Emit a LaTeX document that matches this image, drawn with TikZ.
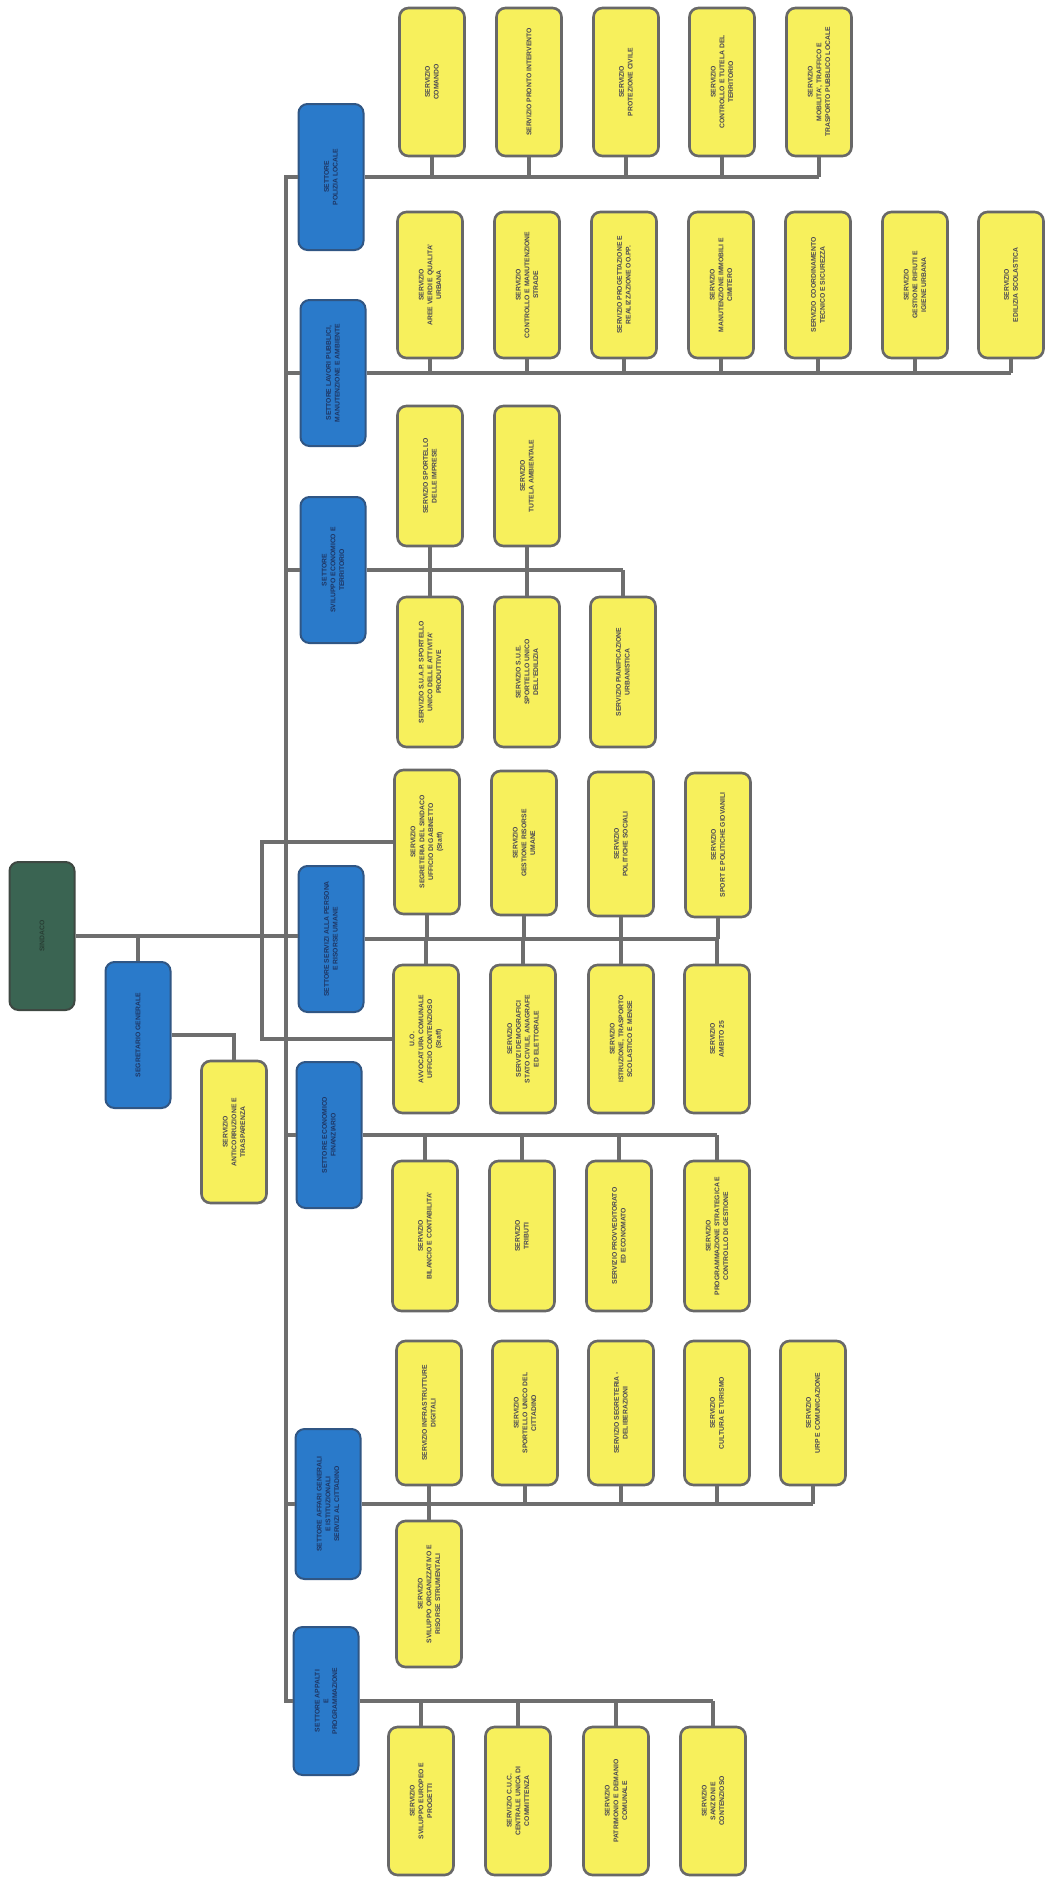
\documentclass[tikz,border=0pt]{standalone}
\usepackage{fontspec}
\setmainfont{Liberation Sans}
\definecolor{yfill}{RGB}{247,240,92}
\definecolor{ydraw}{RGB}{104,104,104}
\definecolor{lgray}{RGB}{110,110,110}
\definecolor{bfill}{RGB}{42,122,202}
\definecolor{bdraw}{RGB}{48,86,132}
\definecolor{gfill}{RGB}{58,100,82}
\definecolor{gdraw}{RGB}{62,72,66}
\definecolor{tgray}{RGB}{74,72,82}
\definecolor{tnavy}{RGB}{30,54,100}
\definecolor{tgreen}{RGB}{40,62,52}
\tikzset{
  conn/.style={draw=lgray, line width=3.2pt},
  ybox/.style={draw=ydraw, line width=2.6pt, fill=yfill, rounded corners=9pt,
    minimum width=65pt, minimum height=146pt, inner sep=0pt},
  bbox/.style={draw=bdraw, line width=2pt, fill=bfill, rounded corners=9pt,
    minimum width=65pt, minimum height=146pt, inner sep=0pt},
  gbox/.style={draw=gdraw, line width=2pt, fill=gfill, rounded corners=9pt,
    minimum width=65pt, minimum height=148pt, inner sep=0pt},
  ytxt/.style={rotate=90, align=center, font=\bfseries\fontsize{6.8}{8.8}\selectfont,
    text=tgray, inner sep=0pt},
  btxt/.style={ytxt, text=tnavy},
  gtxt/.style={ytxt, text=tgreen},
}
\newcommand\yb[5][]{\node[ybox,#1] (#2) at (#3,#4) {}; \node[ytxt] (#2t) at (#2.center) {#5};}
\newcommand\bb[5][]{\node[bbox,#1] (#2) at (#3,#4) {}; \node[btxt] (#2t) at (#2.center) {#5};}
\begin{document}
\begin{tikzpicture}[x=1pt,y=-1pt]
\useasboundingbox (0,0) rectangle (1046,1884);
\fill[white] (0,0) rectangle (1046,1884);

% root and staff
\node[gbox] (root) at (42,936) {};
\node[gtxt] (roott) at (root.center) {SINDACO};
\bb{staff}{138}{1035}{SEGRETARIO GENERALE}
\yb[minimum height=142pt]{anti}{234}{1132}{SERVIZIO\\ANTICORRUZIONE E\\TRASPARENZA}

% department heads
\bb{B1}{331}{177}{SETTORE\\POLIZIA LOCALE}
\bb{B2}{333}{373}{SETTORE LAVORI PUBBLICI,\\MANUTENZIONE E AMBIENTE}
\bb{B3}{333}{570}{SETTORE\\SVILUPPO ECONOMICO E\\TERRITORIO}
\bb{B4}{331}{939}{SETTORE SERVIZI ALLA PERSONA\\E RISORSE UMANE}
\bb{B5}{329}{1135}{SETTORE ECONOMICO\\FINANZIARIO}
\bb[minimum height=150pt]{B6}{328}{1504}{SETTORE AFFARI GENERALI\\E ISTITUZIONALI\\SERVIZI AL CITTADINO}
\bb[minimum height=148pt]{B7}{326}{1701}{SETTORE APPALTI\\E\\PROGRAMMAZIONE}

% row 1
\yb[minimum height=148pt]{r1a}{432}{82}{SERVIZIO\\COMANDO}
\yb[minimum height=148pt]{r1b}{529}{82}{SERVIZIO PRONTO INTERVENTO}
\yb[minimum height=148pt]{r1c}{626}{82}{SERVIZIO\\PROTEZIONE CIVILE}
\yb[minimum height=148pt]{r1d}{722}{82}{SERVIZIO\\CONTROLLO E TUTELA DEL\\TERRITORIO}
\yb[minimum height=148pt]{r1e}{819}{82}{SERVIZIO\\MOBILITA', TRAFFICO E\\TRASPORTO PUBBLICO LOCALE}

% row 2
\yb{r2a}{430}{285}{SERVIZIO\\AREE VERDI E QUALITA'\\URBANA}
\yb{r2b}{527}{285}{SERVIZIO\\CONTROLLO E MANUTENZIONE\\STRADE}
\yb{r2c}{624}{285}{SERVIZIO PROGETTAZIONE E\\REALIZZAZIONE OO.PP.}
\yb{r2d}{721}{285}{SERVIZIO\\MANUTENZIONE IMMOBILI E\\CIMITERO}
\yb{r2e}{818}{285}{SERVIZIO COORDINAMENTO\\TECNICO E SICUREZZA}
\yb{r2f}{915}{285}{SERVIZIO\\GESTIONE RIFIUTI E\\IGIENE URBANA}
\yb{r2g}{1011}{285}{SERVIZIO\\EDILIZIA SCOLASTICA}

% row 3
\yb[minimum height=140pt]{r3u1}{430}{476}{SERVIZIO SPORTELLO\\DELLE IMPRESE}
\yb[minimum height=140pt]{r3u2}{527}{476}{SERVIZIO\\TUTELA AMBIENTALE}
\yb[minimum height=150pt]{r3l1}{430}{672}{SERVIZIO S.U.A.P. SPORTELLO\\UNICO DELLE ATTIVITA'\\PRODUTTIVE}
\yb[minimum height=150pt]{r3l2}{527}{672}{SERVIZIO S.U.E.\\SPORTELLO UNICO\\DELL'EDILIZIA}
\yb[minimum height=150pt]{r3l3}{623}{672}{SERVIZIO PIANIFICAZIONE\\URBANISTICA}

% centre group
\yb[minimum height=144pt]{cu1}{427}{842}{SERVIZIO\\SEGRETERIA DEL SINDACO\\UFFICIO DI GABINETTO\\(Staff)}
\yb[minimum height=144pt]{cu2}{524}{843}{SERVIZIO\\GESTIONE RISORSE\\UMANE}
\yb[minimum height=144pt]{cu3}{621}{844}{SERVIZIO\\POLITICHE SOCIALI}
\yb[minimum height=144pt]{cu4}{718}{845}{SERVIZIO\\SPORT E POLITICHE GIOVANILI}
\yb[minimum height=148pt]{cl1}{426}{1039}{U.O.\\AVVOCATURA COMUNALE\\UFFICIO CONTENZIOSO\\(Staff)}
\yb[minimum height=148pt]{cl2}{523}{1039}{SERVIZIO\\SERVIZI DEMOGRAFICI\\STATO CIVILE, ANAGRAFE\\ED ELETTORALE}
\yb[minimum height=148pt]{cl3}{621}{1039}{SERVIZIO\\ISTRUZIONE, TRASPORTO\\SCOLASTICO E MENSE}
\yb[minimum height=148pt]{cl4}{717}{1039}{SERVIZIO\\AMBITO 25}

% row 5
\yb[minimum height=150pt]{r5a}{425}{1236}{SERVIZIO\\BILANCIO E CONTABILITA'}
\yb[minimum height=150pt]{r5b}{522}{1236}{SERVIZIO\\TRIBUTI}
\yb[minimum height=150pt]{r5c}{619}{1236}{SERVIZIO PROVVEDITORATO\\ED ECONOMATO}
\yb[minimum height=150pt]{r5d}{717}{1236}{SERVIZIO\\PROGRAMMAZIONE STRATEGICA E\\CONTROLLO DI GESTIONE}

% row 6
\yb[minimum height=144pt]{r6a}{429}{1413}{SERVIZIO INFRASTRUTTURE\\DIGITALI}
\yb[minimum height=144pt]{r6b}{525}{1413}{SERVIZIO\\SPORTELLO UNICO DEL\\CITTADINO}
\yb[minimum height=144pt]{r6c}{621}{1413}{SERVIZIO SEGRETERIA -\\DELIBERAZIONI}
\yb[minimum height=144pt]{r6d}{717}{1413}{SERVIZIO\\CULTURA E TURISMO}
\yb[minimum height=144pt]{r6e}{813}{1413}{SERVIZIO\\URP E COMUNICAZIONE}
\yb{r6l}{429}{1594}{SERVIZIO\\SVILUPPO ORGANIZZATIVO E\\RISORSE STRUMENTALI}

% row 7
\yb[minimum height=148pt]{r7a}{421}{1801}{SERVIZIO\\SVILUPPO EUROPEO E\\PROGETTI}
\yb[minimum height=148pt]{r7b}{518}{1801}{SERVIZIO C.U.C.\\CENTRALE UNICA DI\\COMMITTENZA}
\yb[minimum height=148pt]{r7c}{616}{1801}{SERVIZIO\\PATRIMONIO E DEMANIO\\COMUNALE}
\yb[minimum height=148pt]{r7d}{713}{1801}{SERVIZIO\\SANZIONI E\\CONTENZIOSO}

% ---------- connectors ----------
\coordinate (tr) at (286,0);
\coordinate (s2) at (262,939);
\draw[conn] (root.east) -- (root.east -| B4.west);
\draw[conn] (staff.north) -- (staff.north |- root.east);
\draw[conn] (staff.east) -| (anti.north);
\draw[conn] (B1.west) -| (tr |- B7.west) -- (B7.west);
\foreach \b in {B2,B3,B5,B6} \draw[conn] (\b.west) -- (tr |- \b.west);
\draw[conn] (cu1.west) -| (s2) |- (cl1.west);

% row 1
\draw[conn] (B1.east) -- (r1e.south |- B1.east);
\foreach \n in {r1a,r1b,r1c,r1d,r1e} \draw[conn] (\n.south) -- (\n.south |- B1.east);
% row 2
\draw[conn] (B2.east) -- (r2g.south |- B2.east);
\foreach \n in {r2a,r2b,r2c,r2d,r2e,r2f,r2g} \draw[conn] (\n.south) -- (\n.south |- B2.east);
% row 3
\draw[conn] (B3.east) -- (r3l3.north |- B3.east);
\foreach \n in {r3u1,r3u2} \draw[conn] (\n.south) -- (\n.south |- B3.east);
\foreach \n in {r3l1,r3l2,r3l3} \draw[conn] (\n.north) -- (\n.north |- B3.east);
% centre
\draw[conn] (B4.east) -- (cu4.south |- B4.east);
\foreach \n in {cu1,cu2,cu3,cu4} \draw[conn] (\n.south) -- (\n.south |- B4.east);
\foreach \n in {cl1,cl2,cl3,cl4} \draw[conn] (\n.north) -- (\n.north |- B4.east);
% row 5
\draw[conn] (B5.east) -- (r5d.north |- B5.east);
\foreach \n in {r5a,r5b,r5c,r5d} \draw[conn] (\n.north) -- (\n.north |- B5.east);
% row 6
\draw[conn] (B6.east) -- (r6e.south |- B6.east);
\foreach \n in {r6a,r6b,r6c,r6d,r6e} \draw[conn] (\n.south) -- (\n.south |- B6.east);
\draw[conn] (r6l.north) -- (r6l.north |- B6.east);
% row 7
\draw[conn] (B7.east) -- (r7d.north |- B7.east);
\foreach \n in {r7a,r7b,r7c,r7d} \draw[conn] (\n.north) -- (\n.north |- B7.east);
\end{tikzpicture}
\end{document}
